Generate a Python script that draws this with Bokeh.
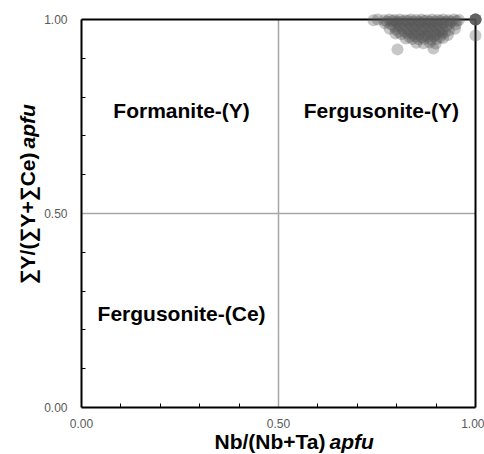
from bokeh.plotting import figure
from bokeh.models import Range1d, FixedTicker, Label, ColumnDataSource, LinearAxis
from bokeh.embed import file_html
from bokeh.resources import INLINE

# Data: Nb/(Nb+Ta) vs ΣY/(ΣY+ΣCe), apfu
nb_ratio = [0.752, 0.768, 0.781, 0.795, 0.808, 0.822, 0.836, 0.849, 0.863, 0.877,
            0.890, 0.904, 0.918, 0.931, 0.945, 0.958,
            0.770, 0.786, 0.801, 0.817, 0.832, 0.846, 0.861, 0.875, 0.889, 0.903,
            0.918, 0.934, 0.950,
            0.782, 0.798, 0.813, 0.829, 0.844, 0.859, 0.873, 0.888, 0.902, 0.917,
            0.933, 0.948,
            0.797, 0.812, 0.828, 0.843, 0.857, 0.872, 0.886, 0.901, 0.915, 0.930,
            0.823, 0.840, 0.856, 0.871, 0.887, 0.902, 0.918,
            0.850, 0.868, 0.884, 0.899,
            0.775, 0.789, 0.802, 0.815, 0.829, 0.842, 0.856, 0.870, 0.884, 0.897,
            0.911, 0.925, 0.938, 0.952,
            0.793, 0.808, 0.824, 0.839, 0.853, 0.867, 0.881, 0.895, 0.910, 0.926,
            0.805, 0.820, 0.836, 0.850, 0.865, 0.879, 0.894, 0.908, 0.922,
            0.832, 0.848, 0.864, 0.879, 0.894, 0.910,
            0.741, 0.802, 0.893, 1.000,
            1.000, 1.000, 1.000, 1.000, 1.000, 1.000]
y_ratio = [1.000, 0.998, 1.000, 0.999, 1.000, 0.998, 1.000, 0.999, 1.000, 0.998,
           1.000, 0.999, 1.000, 0.998, 1.000, 0.999,
           0.990, 0.988, 0.991, 0.989, 0.990, 0.988, 0.991, 0.989, 0.990, 0.988,
           0.991, 0.989, 0.987,
           0.976, 0.974, 0.977, 0.975, 0.976, 0.974, 0.977, 0.975, 0.976, 0.974,
           0.972, 0.976,
           0.964, 0.962, 0.963, 0.961, 0.962, 0.960, 0.962, 0.961, 0.963, 0.960,
           0.951, 0.950, 0.949, 0.950, 0.948, 0.950, 0.952,
           0.940, 0.939, 0.941, 0.938,
           0.995, 0.996, 0.994, 0.995, 0.996, 0.994, 0.995, 0.996, 0.994, 0.995,
           0.996, 0.994, 0.995, 0.996,
           0.982, 0.983, 0.981, 0.982, 0.983, 0.981, 0.982, 0.983, 0.981, 0.982,
           0.968, 0.969, 0.967, 0.968, 0.969, 0.967, 0.968, 0.969, 0.967,
           0.955, 0.956, 0.954, 0.955, 0.956, 0.954,
           0.998, 0.923, 0.925, 0.959,
           1.000, 1.000, 1.000, 1.000, 1.000, 1.000]

x_ticks = [0.0, 0.5, 1.0]
y_ticks = [0.0, 0.5, 1.0]
minor = [0.1, 0.2, 0.3, 0.4, 0.6, 0.7, 0.8, 0.9]
tick_labels = {0.0: "0.00", 0.5: "0.50", 1.0: "1.00"}

fields = ["Formanite-(Y)", "Fergusonite-(Y)", "Fergusonite-(Ce)"]
field_x = [0.254, 0.761, 0.254]
field_y = [0.765, 0.765, 0.242]

FONT = "Liberation Sans"
PXX, PXY = 394.0, 388.0   # pixels per unit along x and y

p = figure(width=484, height=454, output_backend="svg", toolbar_location=None,
           x_range=Range1d(-81 / PXX, 1 + 9 / PXX), y_range=Range1d(-47 / PXY, 1 + 19 / PXY),
           x_axis_location=None, y_axis_location=None,
           min_border=0)
p.outline_line_color = None
p.background_fill_color = "white"
p.border_fill_color = "white"

xax = LinearAxis(fixed_location=0)
yax = LinearAxis(fixed_location=0)
p.add_layout(xax, "below")
p.add_layout(yax, "left")

for ax, ticks in ((xax, x_ticks), (yax, y_ticks)):
    ax.ticker = FixedTicker(ticks=ticks, minor_ticks=minor)
    ax.major_label_overrides = tick_labels
    ax.bounds = (0, 1)
    ax.axis_line_color = "black"
    ax.axis_line_width = 2
    ax.major_tick_in = 0
    ax.major_tick_out = 0
    ax.minor_tick_in = 4
    ax.minor_tick_out = 0
    ax.minor_tick_line_color = "black"
    ax.major_label_text_font = FONT
    ax.major_label_text_font_size = "12px"
    ax.major_label_text_color = "#595959"
xax.major_label_standoff = 11
yax.major_label_standoff = 14

p.xgrid[0].ticker = FixedTicker(ticks=[0.5])
p.ygrid[0].ticker = FixedTicker(ticks=[0.5])
for g in (p.xgrid[0], p.ygrid[0]):
    g.visible = True
    g.bounds = (0, 1)
    if "cross_bounds" in g.properties():
        g.cross_bounds = (0, 1)
    g.grid_line_color = "#a6a6a6"
    g.grid_line_width = 1.5

# top and right frame of the diagram box
p.line(x=[0, 1, 1], y=[1, 1, 0], line_color="black", line_width=2)

src = ColumnDataSource(dict(x=nb_ratio, y=y_ratio))
p.scatter("x", "y", source=src, size=12, fill_color="#555555", fill_alpha=0.33,
          line_color=None)

for t, fx, fy in zip(fields, field_x, field_y):
    p.add_layout(Label(x=fx, y=fy, text=t, text_align="center", text_baseline="middle",
                       text_font=FONT, text_font_style="bold", text_font_size="21px",
                       text_color="black"))

# axis titles (bold part + bold-italic "apfu")
xt_y = (407 - 441) / PXY
p.add_layout(Label(x=(325 - 81) / PXX, y=xt_y, text="Nb/(Nb+Ta)",
                   text_align="right", text_baseline="middle", text_font=FONT,
                   text_font_style="bold", text_font_size="21px", text_color="black"))
p.add_layout(Label(x=(329 - 81) / PXX, y=xt_y, text="apfu",
                   text_align="left", text_baseline="middle", text_font=FONT,
                   text_font_style="bold italic", text_font_size="21px", text_color="black"))
yt_x = (27 - 81) / PXX
p.add_layout(Label(x=yt_x, y=(407 - 152) / PXY, text="∑Y/(∑Y+∑Ce)",
                   angle=1.5708, text_align="right", text_baseline="middle", text_font=FONT,
                   text_font_style="bold", text_font_size="21px", text_color="black"))
p.add_layout(Label(x=yt_x, y=(407 - 148) / PXY, text="apfu",
                   angle=1.5708, text_align="left", text_baseline="middle", text_font=FONT,
                   text_font_style="bold italic", text_font_size="21px", text_color="black"))

open("out.html", "w").write(file_html(p, INLINE))
